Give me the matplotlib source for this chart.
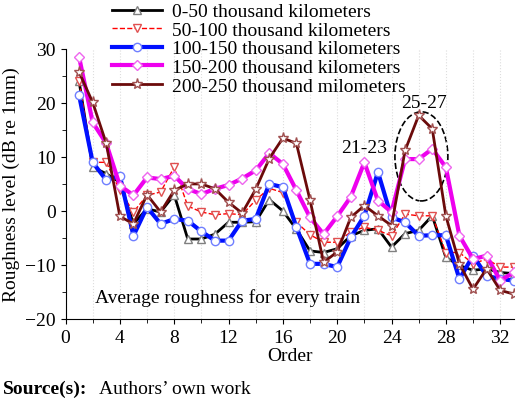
import matplotlib
matplotlib.use("Agg")
import matplotlib.pyplot as plt
from matplotlib.patches import Ellipse
import numpy as np

order = np.arange(1, 34)

# roughness level (dB re 1mm) for each mileage group
r_0_50 = [24.0, 8.1, 6.9, 5.3, -2.4, 0.4, -0.2, 3.0, -5.2, -5.2, -4.3, -2.1,
          -2.1, -2.0, 2.1, 0.0, -3.4, -7.4, -7.7, -7.0, -4.6, -3.6, -3.3, -6.7,
          -4.2, -3.6, -0.9, -8.6, -10.1, -11.0, -10.7, -11.4, -11.6]
r_50_100 = [24.0, 9.0, 9.0, 3.8, -0.2, 2.9, 3.5, 8.1, 0.9, -0.2, -0.7, -0.5,
            -0.7, 2.0, 4.2, 3.4, -2.1, -4.4, -5.8, -5.8, -3.9, -3.0, -3.6, -4.6,
            -0.6, -0.9, -0.9, -7.7, -7.7, -9.8, -8.9, -10.4, -10.4]
r_100_150 = [21.4, 9.0, 5.7, 6.5, -4.6, 0.7, -2.4, -1.5, -1.8, -3.8, -5.5, -5.5,
             -1.8, -1.5, 5.0, 4.4, -3.0, -9.8, -9.8, -10.4, -4.9, -0.9, 7.2, -1.2,
             -2.1, -4.6, -4.5, -4.5, -12.6, -8.3, -12.0, -12.6, -12.9]
r_150_200 = [28.5, 16.4, 12.5, 4.7, 2.9, 6.2, 5.9, 6.5, 4.1, 3.1, 4.1, 4.8,
             6.0, 7.5, 10.7, 8.7, 3.8, -1.2, -4.3, -1.0, 2.6, 9.0, 1.9, -0.2,
             9.6, 9.6, 11.5, 8.1, -4.6, -8.9, -8.3, -12.9, -11.4]
r_200_250 = [25.7, 20.1, 12.5, -1.0, -2.4, 3.0, -0.2, 3.8, 5.0, 5.0, 4.1, 1.6,
             -0.4, 4.0, 9.7, 13.5, 12.5, 2.0, -9.5, -7.6, -1.2, 1.0, -0.9, -2.7,
             11.2, 17.7, 15.2, -0.9, -9.8, -14.5, -10.7, -14.7, -15.4]

labels = ["0-50 thousand kilometers", "50-100 thousand kilometers",
          "100-150 thousand kilometers", "150-200 thousand kilometers",
          "200-250 thousand milometers"]

plt.rcParams["font.family"] = "Liberation Serif"
fig = plt.figure(figsize=(5.2, 4.06), dpi=100)
ax = fig.add_axes([0.126, 0.212, 0.862, 0.665])

ax.plot(order, r_0_50, color="black", lw=2, marker="^", ms=6, mfc="white",
        mec="gray", label=labels[0])
ax.plot(order, r_50_100, color="red", lw=1, ls="--", marker="v", ms=6,
        mfc="white", mec="#e05050", label=labels[1])
ax.plot(order, r_100_150, color="#0010ff", lw=3, marker="o", ms=6, mfc="white",
        mec="#6f7fff", label=labels[2])
ax.plot(order, r_150_200, color="#ee00ee", lw=3, marker="D", ms=5.5, mfc="white",
        mec="#ee66ee", label=labels[3])
ax.plot(order, r_200_250, color="#6b0a0a", lw=2, marker="*", ms=8, mfc="white",
        mec="#a05050", label=labels[4])

ax.set_xlim(0, 33)
ax.set_ylim(-20, 30)
ax.set_xticks(np.arange(0, 33, 4))
ax.set_xticks(np.arange(0, 34, 2), minor=True)
ax.set_yticks(np.arange(-20, 31, 10))
ax.set_yticks(np.arange(-20, 31, 5), minor=True)
ax.grid(axis="x", which="both", color="#dddddd", ls=":", lw=0.8)
ax.spines["top"].set_visible(False)
ax.spines["right"].set_visible(False)
ax.tick_params(labelsize=14, direction="out")
ax.tick_params(which="minor", length=3)
ax.set_xlabel("Order", fontsize=14, labelpad=1)
ax.set_ylabel("Roughness level (dB re 1mm)", fontsize=14)

ax.text(2.2, -16.8, "Average roughness for every train", fontsize=14)
ax.text(20.3, 11, "21-23", fontsize=14)
ax.text(24.7, 19.2, "25-27", fontsize=14)
ax.add_patch(Ellipse((26.2, 10.1), 3.9, 16.5, fill=False, ls="--", lw=1.2,
                     color="black"))

fig.legend(loc="upper left", bbox_to_anchor=(0.2, 1.01), frameon=False,
           fontsize=14, handlelength=2.6, labelspacing=0.05,
           borderaxespad=0, handletextpad=0.5)

fig.text(0.005, 0.03, "Source(s):", fontsize=14, fontweight="bold")
fig.text(0.19, 0.03, "Authors’ own work", fontsize=14)

fig.savefig("out.png", dpi=100)
